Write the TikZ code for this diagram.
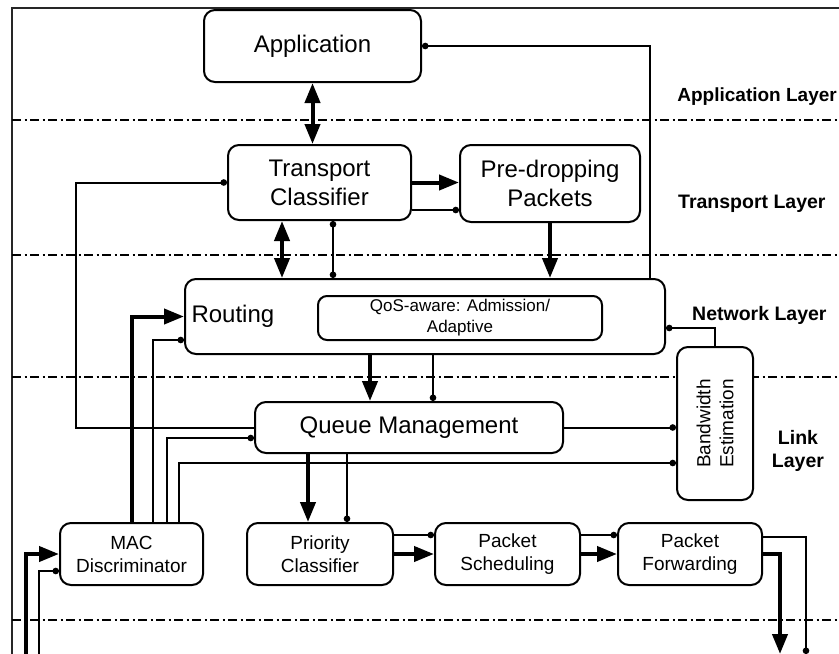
\documentclass[tikz,border=0pt]{standalone}
\usepackage{fontspec}
\setmainfont{Liberation Sans}
\usepackage{tikz}
\usetikzlibrary{arrows.meta, positioning, calc}

\begin{document}
\begin{tikzpicture}[x=1pt, y=-1pt]
        \tikzstyle{box} = [rectangle, rounded corners=11pt, draw=black, line width=2pt, fill=white, inner sep=0pt, align=center]
        \tikzstyle{bigbox} = [box, font=\fontsize{24}{29}\selectfont]
        \tikzstyle{smallbox} = [box, font=\fontsize{19}{23}\selectfont]
        \tikzstyle{bigtext} = [font=\fontsize{24}{29}\selectfont]
        \tikzstyle{layertext} = [font=\fontsize{19.5}{23}\selectfont\bfseries, inner sep=0pt, align=center]
        \tikzstyle{layerline} = [line width=2pt, dash pattern=on 9pt off 3.5pt on 2pt off 3.5pt]
        \tikzstyle{bigarrow} = [-{Triangle[length=20pt, width=15pt]}, line width=4pt]
        \tikzstyle{bigboth} = [{Triangle[length=20pt, width=15pt]}-{Triangle[length=20pt, width=15pt]}, line width=4pt]
        \tikzstyle{smallarrow} = [-{Circle[length=6.5pt]}, line width=2pt]
        \tikzstyle{smallboth} = [{Circle[length=6.5pt]}-{Circle[length=6.5pt]}, line width=2pt]

        \useasboundingbox (0,0) rectangle (839,654);

        % Chenar si straturi
        \draw [line width=2pt, black!85] (12,660) -- (12,8) -- (845,8);
        \draw [layerline] (12,120) -- (845,120);
        \draw [layerline] (12,255) -- (845,255);
        \draw [layerline] (12,377) -- (845,377);
        \draw [layerline] (12,620) -- (845,620);

        \node (applayer) [layertext, font=\fontsize{19}{23}\selectfont\bfseries, anchor=east] at (837,97) {Application Layer};
        \node (translayer) [layertext, anchor=west] at (678,204) {Transport Layer};
        \node (netlayer) [layertext, anchor=west] at (692,315) {Network Layer};
        \node (linklayer) [layertext] at (798,451) {Link\\Layer};

        % Noduri
        \node (app) [bigbox, minimum width=217pt, minimum height=72pt] at (312.5,46) {Application};
        \node (transport) [bigbox, minimum width=183pt, minimum height=75pt] at (319.5,182.5) {Transport\\Classifier};
        \node (predrop) [bigbox, minimum width=180pt, minimum height=77pt] at (550,183.5) {Pre-dropping\\Packets};
        \node (routing) [bigbox, minimum width=480pt, minimum height=75pt] at (425,316.5) {};
        \node (routtext) [bigtext, right=4pt of routing.west] {Routing};
        \node (qos) [box, rounded corners=9pt, font=\fontsize{17}{21}\selectfont, minimum width=284pt, minimum height=44pt] at (460,318) {QoS-aware: Admission/\\Adaptive};
        \node (queue) [bigbox, minimum width=308pt, minimum height=51pt] at (409,427.5) {Queue Management};
        \node (bw) [smallbox, minimum width=76pt, minimum height=153pt] at (715,423.5) {};
        \node (bwtext) [smallbox, draw=none, fill=none, rotate=90] at (bw) {Bandwidth\\Estimation};
        \node (mac) [smallbox, minimum width=143pt, minimum height=62pt] at (131.5,554) {MAC\\Discriminator};
        \node (prio) [smallbox, minimum width=146pt, minimum height=62pt] at (320,554) {Priority\\Classifier};
        \node (sched) [smallbox, minimum width=145pt, minimum height=62pt] at (507.5,554) {Packet\\Scheduling};
        \node (fwd) [smallbox, minimum width=144pt, minimum height=62pt] at (690,554) {Packet\\Forwarding};

        \coordinate (in1) at (26,660);
        \coordinate (in2) at (39,660);
        \coordinate (out1) at (780,654);
        \coordinate (out2) at (806,654);

        % Sageti sus
        \draw [bigboth] (app.south) -- (app.south |- transport.north);
        \draw [bigarrow] (transport.east) -- (transport.east -| predrop.west);
        \draw [smallarrow] ([yshift=-27.5pt]transport.east) -- ([yshift=-27.5pt]transport.east -| predrop.west);
        \draw [bigboth] ([xshift=-37.5pt]transport.south) -- ([xshift=-37.5pt]transport.south |- routing.north);
        \draw [smallboth] ([xshift=13.5pt]transport.south) -- ([xshift=13.5pt]transport.south |- routing.north);
        \draw [bigarrow] (predrop.south) -- (predrop.south |- routing.north);
        \draw [smallarrow] ([xshift=225pt]routing.north) |- (app.east);

        % Sageti mijloc
        \draw [bigarrow] ([xshift=-39pt]queue.north |- routing.south) -- ([xshift=-39pt]queue.north);
        \draw [smallarrow] ([xshift=24pt]queue.north |- routing.south) -- ([xshift=24pt]queue.north);
        \draw [smallarrow] (bw.north) |- ([yshift=-11.5pt]routing.east);
        \draw [smallarrow] (queue.east) -- (queue.east -| bw.west);
        \draw [smallarrow] (queue.west) -| ([xshift=-151pt]transport.west) -- (transport.west);

        % Sageti din MAC
        \draw [bigarrow] (mac.north) |- (routing.west);
        \draw [smallarrow] ([xshift=21.5pt]mac.north) |- ([yshift=-23.5pt]routing.west);
        \draw [smallarrow] ([xshift=35.5pt]mac.north) |- ([yshift=-10.5pt]queue.west);
        \draw [smallarrow] ([xshift=47.5pt]mac.north) |- ([yshift=-39.5pt]bw.west);
        \draw [bigarrow] (in1) |- (mac.west);
        \draw [smallarrow] (in2) |- ([yshift=-17pt]mac.west);

        % Sageti jos
        \draw [bigarrow] ([xshift=-12pt]prio.north |- queue.south) -- ([xshift=-12pt]prio.north);
        \draw [smallarrow] ([xshift=27pt]prio.north |- queue.south) -- ([xshift=27pt]prio.north);
        \draw [bigarrow] (prio.east) -- (sched.west);
        \draw [smallarrow] ([yshift=19pt]prio.east) -- ([yshift=19pt]sched.west);
        \draw [bigarrow] (sched.east) -- (fwd.west);
        \draw [smallarrow] ([yshift=19pt]sched.east) -- ([yshift=19pt]fwd.west);
        \draw [bigarrow] (fwd.east) -| (out1);
        \draw [smallarrow] ([yshift=17pt]fwd.east) -| (out2);
\end{tikzpicture}
\end{document}
